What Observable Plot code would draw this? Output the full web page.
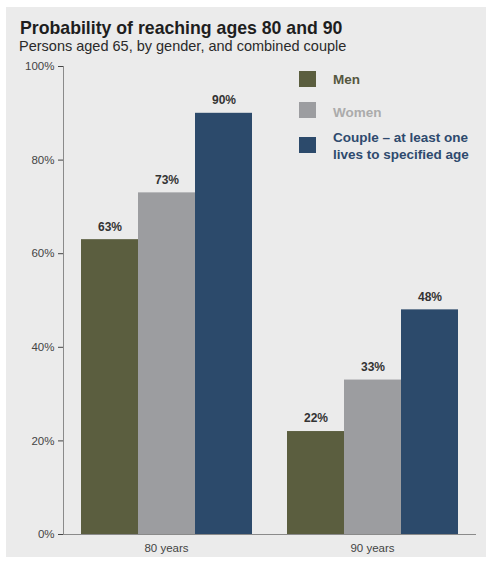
<!DOCTYPE html>
<html>
<head>
<meta charset="utf-8">
<script src="https://cdn.jsdelivr.net/npm/d3@7"></script>
<script src="https://cdn.jsdelivr.net/npm/@observablehq/plot@0.6"></script>
<style>
  body { margin: 0; background: #fff; font-family: "Liberation Sans", Arial, sans-serif; }
  #panel { position: absolute; left: 6px; top: 7px; width: 480px; height: 550px; background: #ebebeb; }
  #title { position: absolute; left: 20px; top: 19px; font-size: 17.7px; line-height: 18px; font-weight: bold; color: #1e1e1e; white-space: nowrap; }
  #subtitle { position: absolute; left: 19px; top: 39px; font-size: 14.5px; line-height: 15px; color: #2a2a2a; white-space: nowrap; }
  #chart { position: absolute; left: 0; top: 56px; }
  #legend { position: absolute; left: 299px; top: 71px; font-size: 13.5px; font-weight: bold; }
  .sw { position: absolute; left: 0; width: 17px; height: 16px; }
  .lab { position: absolute; left: 34px; line-height: 17px; white-space: nowrap; }
</style>
</head>
<body>
<div id="panel"></div>
<div id="title">Probability of reaching ages 80 and 90</div>
<div id="subtitle">Persons aged 65, by gender, and combined couple</div>
<div id="chart"></div>
<div id="legend"></div>
<script>
const groups = ["80 years", "90 years"];
const series = ["Men", "Women", "Couple"];
const legendLabels = ["Men", "Women", "Couple – at least one<br>lives to specified age"];
const men = [63, 22];
const women = [73, 33];
const couple = [90, 48];
const yTicks = [0, 20, 40, 60, 80, 100];

const colors = ["#5b5e3f", "#9c9da0", "#2c4a6b"];
const legendText = ["#55573f", "#ababab", "#2e4a6e"];

const valuesBySeries = [men, women, couple];
const rows = [];
groups.forEach((g, gi) => {
  series.forEach((s, si) => {
    rows.push({group: g, series: s, value: valuesBySeries[si][gi]});
  });
});

const chart = Plot.plot({
  width: 490,
  height: 505,
  marginTop: 10,
  marginBottom: 27,
  marginLeft: 63,
  marginRight: 15,
  style: {background: "transparent", fontSize: "11.5px", fontFamily: "Liberation Sans, Arial, sans-serif", color: "#444"},
  fx: {domain: groups, padding: 0, axis: "bottom", tickSize: 0, tickPadding: 9, label: null, fontSize: 12},
  x: {domain: series, paddingInner: 0, paddingOuter: 0.3, axis: null},
  y: {domain: [0, 100], ticks: yTicks, tickFormat: d => d + "%", tickSize: 5, tickPadding: 4, label: null},
  color: {domain: series, range: colors},
  marks: [
    Plot.barY(rows, {fx: "group", x: "series", y: "value", fill: "series"}),
    Plot.text(rows, {fx: "group", x: "series", y: "value", text: d => d.value + "%", dy: -13, fontWeight: "bold", fill: "#333", fontSize: 12}),
    Plot.frame({anchor: "left", facet: "super", stroke: "#8a8a8a"}),
    Plot.frame({anchor: "bottom", facet: "super", stroke: "#8a8a8a"})
  ]
});
document.getElementById("chart").appendChild(chart);

const legend = document.getElementById("legend");
const swTops = [0, 31, 66];
const labTops = [0, 33, 58];
series.forEach((s, i) => {
  const sw = document.createElement("div");
  sw.className = "sw";
  sw.style.top = swTops[i] + "px";
  sw.style.background = colors[i];
  const lab = document.createElement("div");
  lab.className = "lab";
  lab.style.color = legendText[i];
  lab.style.top = labTops[i] + "px";
  lab.innerHTML = legendLabels[i];
  legend.appendChild(sw);
  legend.appendChild(lab);
});
</script>
</body>
</html>
